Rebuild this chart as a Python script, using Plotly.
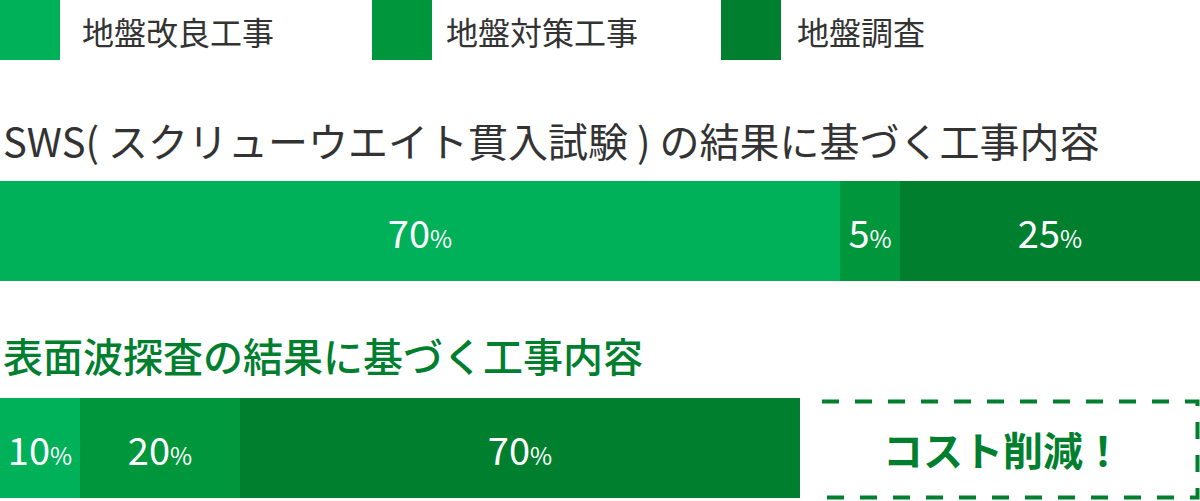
import plotly.graph_objects as go

# ---- data ----
categories = ["地盤改良工事", "地盤対策工事", "地盤調査"]
colors = ["#00b15a", "#00963b", "#007f2f"]
sws_values = [70, 5, 25]
wave_values = [10, 20, 70]
title_sws = "SWS( スクリューウエイト貫入試験 ) の結果に基づく工事内容"
title_wave = "表面波探査の結果に基づく工事内容"
saving_label = "コスト削減！"

W, H = 1200, 501
FONT = "Noto Sans CJK JP"


def px(x):
    return x / W


def py(y):
    return 1 - y / H


def label(v):
    return f"{v}<span style='font-size:24px'>%</span>"


fig = go.Figure()
for name, col, v in zip(categories, colors, sws_values):
    fig.add_trace(go.Bar(
        x=[v], y=["sws"], orientation="h", name=name,
        marker=dict(color=col, line=dict(width=0)),
        text=[label(v)], textposition="inside", insidetextanchor="middle",
        textfont=dict(family=FONT, size=38, color="white"),
        constraintext="none", xaxis="x", yaxis="y", showlegend=False,
        hoverinfo="skip",
    ))
for name, col, v in zip(categories, colors, wave_values):
    fig.add_trace(go.Bar(
        x=[v], y=["wave"], orientation="h", name=name,
        marker=dict(color=col, line=dict(width=0)),
        text=[label(v)], textposition="inside", insidetextanchor="middle",
        textfont=dict(family=FONT, size=38, color="white"),
        constraintext="none", xaxis="x2", yaxis="y2", showlegend=False,
        hoverinfo="skip",
    ))

shapes = []
annotations = []

# legend swatches
legend_x = [0, 372, 721]
text_x = [80, 444, 795]
for lx, tx, name, col in zip(legend_x, text_x, categories, colors):
    shapes.append(dict(type="rect", xref="paper", yref="paper",
                       x0=px(lx), x1=px(lx + 60), y0=py(60), y1=py(0),
                       fillcolor=col, line=dict(width=0)))
    annotations.append(dict(xref="paper", yref="paper", x=px(tx), y=py(31),
                            xanchor="left", yanchor="middle", showarrow=False,
                            text=name, font=dict(family=FONT, size=32, color="#333333")))

# titles
annotations.append(dict(xref="paper", yref="paper", x=px(1), y=py(140),
                        xanchor="left", yanchor="middle", showarrow=False,
                        text=title_sws, font=dict(family=FONT, size=40, color="#333333")))
annotations.append(dict(xref="paper", yref="paper", x=px(1), y=py(355),
                        xanchor="left", yanchor="middle", showarrow=False,
                        text=title_wave,
                        font=dict(family=FONT, size=40, color="#007f2f", weight=500)))

# dashed "cost saving" box
x0, x1, y0, y1 = px(822), px(1197.5), py(401.5), py(497.5)
shapes.append(dict(type="path", xref="paper", yref="paper",
                   path=f"M {x0},{y0} L {x1},{y0} L {x1},{y1} L {x0},{y1}",
                   line=dict(color="#007f2f", width=4, dash="17px,16px")))
annotations.append(dict(xref="paper", yref="paper", x=px(1003), y=py(449),
                        xanchor="center", yanchor="middle", showarrow=False,
                        text=f"<b>{saving_label}</b>",
                        font=dict(family=FONT, size=40, color="#007f2f")))

axis_off = dict(visible=False, showgrid=False, zeroline=False, fixedrange=True)
fig.update_layout(
    width=W, height=H,
    margin=dict(l=0, r=0, t=0, b=0),
    paper_bgcolor="white", plot_bgcolor="white",
    barmode="stack", bargap=0,
    xaxis=dict(range=[0, 100], domain=[0, 1], **axis_off),
    yaxis=dict(domain=[py(281), py(181)], **axis_off),
    xaxis2=dict(range=[0, 150], domain=[0, 1], anchor="y2", **axis_off),
    yaxis2=dict(domain=[py(498), py(398)], anchor="x2", **axis_off),
    shapes=shapes, annotations=annotations,
    showlegend=False,
)

fig.write_html("out.html", config={"displayModeBar": False},
               post_script="document.body.style.margin='0px';document.body.style.overflow='hidden';")
